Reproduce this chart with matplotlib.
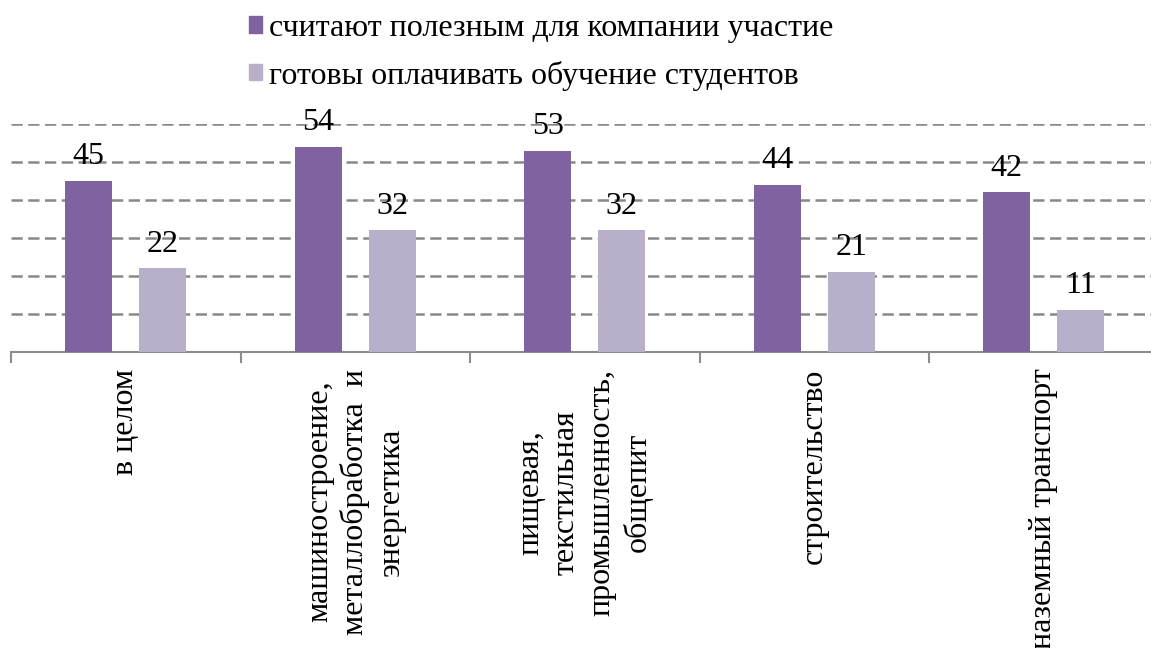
import numpy as np
import matplotlib.pyplot as plt
from matplotlib.patches import Patch

plt.rcParams['font.family'] = ['Liberation Serif', 'DejaVu Serif']

categories = ['в целом',
              'машиностроение,\nметаллобработка  и\nэнергетика',
              'пищевая,\nтекстильная\nпромышленность,\nобщепит',
              'строительство',
              'наземный транспорт']
useful = [45, 54, 53, 44, 42]
pay = [22, 32, 32, 21, 11]
series_names = ['считают полезным для компании участие',
                'готовы оплачивать обучение студентов']
c1 = '#7F63A1'
c2 = '#B8AFCA'
fs = 23

fig = plt.figure(figsize=(11.51, 6.48), dpi=100)
ax = fig.add_axes([11/1151, 296/648, 1147.5/1151, 228/648])

x = np.arange(len(categories))
off = 0.161
w = 0.205
b1 = ax.bar(x - off, useful, w, color=c1, zorder=3)
b2 = ax.bar(x + off, pay, w, color=c2, zorder=3)

for bars, vals in ((b1, useful), (b2, pay)):
    for r, v in zip(bars, vals):
        ax.annotate(str(v), (r.get_x() + r.get_width()/2, v), xytext=(0, 7),
                    textcoords='offset points', ha='center', va='bottom',
                    fontsize=fs, zorder=4, annotation_clip=False)

ax.set_xlim(-0.5, len(categories) - 0.5)
ax.set_ylim(0, 60)
ax.set_yticks(np.arange(10, 61, 10))
ax.yaxis.grid(True, color='#888888', linestyle=(0, (4.5, 2.2)), linewidth=1.8, zorder=0)
ax.tick_params(axis='y', left=False, labelleft=False)

ax.set_xticks(x)
ax.set_xticklabels(categories, rotation=90, fontsize=fs, ha='center', va='top',
                   multialignment='center', linespacing=1.28)
ax.set_xticks(np.arange(-0.5, len(categories), 1), minor=True)
ax.tick_params(axis='x', which='major', length=0, pad=12)
ax.tick_params(axis='x', which='minor', length=8, width=1.5, color='#8c8c8c')

for s in ('top', 'right', 'left'):
    ax.spines[s].set_visible(False)
ax.spines['bottom'].set_color('#8c8c8c')
ax.spines['bottom'].set_linewidth(1.5)

handles = [Patch(color=c1), Patch(color=c2)]
fig.legend(handles, series_names, loc='upper left', bbox_to_anchor=(249/1151, 1 - 14/648),
           frameon=False, fontsize=fs, handlelength=0.42, handleheight=0.42,
           handletextpad=0.2, labelspacing=0.55, borderpad=0, borderaxespad=0)

fig.savefig('out.png', dpi=100)
